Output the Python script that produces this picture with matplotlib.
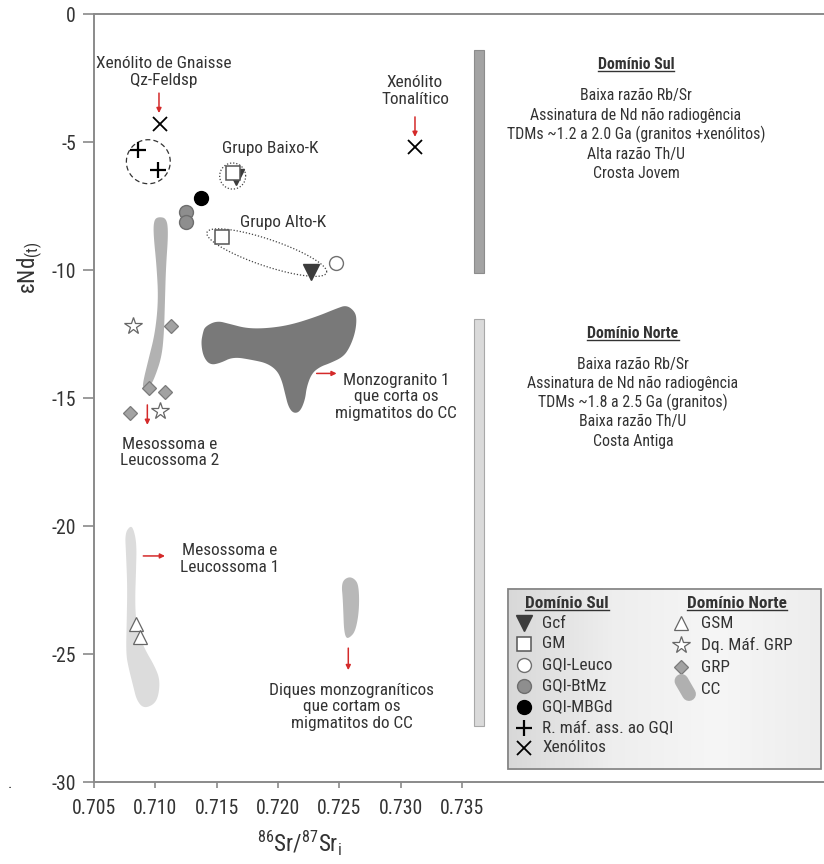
import numpy as np
import matplotlib
matplotlib.use("Agg")
import matplotlib.pyplot as plt
from matplotlib import font_manager as fm
from matplotlib.patches import Polygon, Rectangle
from matplotlib.lines import Line2D
from matplotlib.colors import LinearSegmentedColormap

# pick a narrow sans face when one is installed
_installed = {f.name for f in fm.fontManager.ttflist}
_narrow = [n for n in ('Liberation Sans Narrow', 'Arial Narrow', 'Roboto Condensed',
                       'Open Sans Condensed', 'Noto Sans Condensed', 'DejaVu Sans Condensed')
           if n in _installed]
_stretch = 'normal'
if not _narrow:
    for f in fm.fontManager.ttflist:
        if f.name in ('Noto Sans', 'Open Sans', 'Roboto', 'Inter') and \
                str(f.stretch) in ('condensed', 'semi-condensed', 'extra-condensed', '75', '87.5'):
            _narrow = [f.name]
            _stretch = 'condensed'
            break
plt.rcParams['font.family'] = _narrow + ['Liberation Sans', 'DejaVu Sans']
plt.rcParams['font.stretch'] = _stretch
plt.rcParams['axes.unicode_minus'] = False
plt.rcParams['mathtext.default'] = 'regular'

# ---------------- samples: initial 87Sr/86Sr and eNd(t) ----------------
# Dominio Sul
gcf_sr = [0.7166, 0.7227]
gcf_nd = [-6.38, -10.07]
gm_sr = [0.7163, 0.7154]
gm_nd = [-6.22, -8.70]
leuco_sr = [0.7247]
leuco_nd = [-9.71]
btmz_sr = [0.7125, 0.7125]
btmz_nd = [-7.72, -8.11]
mbgd_sr = [0.7137]
mbgd_nd = [-7.20]
rmaf_sr = [0.7086, 0.7102]
rmaf_nd = [-5.31, -6.09]
xen_sr = [0.7104, 0.7312]
xen_nd = [-4.31, -5.20]
# Dominio Norte
gsm_sr = [0.7084, 0.70875]
gsm_nd = [-23.83, -24.35]
dq_sr = [0.7082, 0.7104]
dq_nd = [-12.19, -15.50]
grp_sr = [0.7113, 0.7095, 0.7108, 0.7079]
grp_nd = [-12.19, -14.60, -14.78, -15.60]

# ---------------- fields (outlines in Sr, Nd units) ----------------
cc_upper_sr = [0.71025, 0.71093, 0.71106, 0.71087, 0.71079, 0.71071, 0.71052, 0.70998,
               0.70957, 0.70902, 0.70897, 0.70943, 0.70998, 0.71025, 0.71011, 0.70984, 0.70989]
cc_upper_nd = [-7.92, -7.98, -8.57, -9.87, -11.17, -12.47, -13.39, -14.17,
               -14.56, -14.62, -14.43, -13.52, -12.47, -11.17, -9.87, -8.57, -8.05]

monzo_sr = [0.71405, 0.71501, 0.71609, 0.71746, 0.71909, 0.72099, 0.72317, 0.72480, 0.72561,
            0.72629, 0.72643, 0.72629, 0.72588, 0.72534, 0.72425, 0.72344, 0.72276, 0.72235,
            0.72221, 0.72180, 0.72126, 0.72085, 0.72058, 0.72031, 0.71990, 0.71909, 0.71799,
            0.71636, 0.71528, 0.71446, 0.71392, 0.71373, 0.71387]
monzo_nd = [-12.21, -11.98, -12.11, -12.28, -12.28, -12.15, -11.82, -11.50, -11.37,
            -11.63, -11.95, -12.47, -13.00, -13.39, -13.64, -13.78, -14.04, -14.56,
            -15.08, -15.54, -15.60, -15.34, -14.82, -14.30, -13.91, -13.64, -13.52,
            -13.39, -13.64, -13.71, -13.39, -12.86, -12.47]

cc_lower_sr = [0.70794, 0.70821, 0.70848, 0.70843, 0.70834, 0.70848, 0.70902, 0.70998, 0.71038,
               0.71025, 0.70984, 0.70902, 0.70848, 0.70821, 0.70780, 0.70761, 0.70767, 0.70772,
               0.70761, 0.70753]
cc_lower_nd = [-20.00, -20.09, -20.68, -21.72, -23.02, -23.93, -24.71, -25.50, -26.02,
               -26.67, -26.99, -27.12, -26.80, -26.28, -25.50, -24.97, -23.67, -22.37,
               -21.07, -20.29]

dike_sr = [0.72534, 0.72583, 0.72629, 0.72656, 0.72664, 0.72656, 0.72629, 0.72588, 0.72556,
           0.72539, 0.72534, 0.72528, 0.72520]
dike_nd = [-22.11, -21.98, -22.08, -22.30, -22.89, -23.54, -24.13, -24.35, -24.39,
           -24.06, -23.41, -22.76, -22.37]

# domain ranges of eNd (vertical bars)
sul_range = [-1.4, -10.1]
norte_range = [-11.9, -27.8]
domain_bar_sr = 0.7364

# group outlines: centre (Sr, Nd), half-width in Sr, half-height in Nd, tilt in Nd
plus_ring = (0.70943, -5.77, 0.00179, 0.86, 0.0)
baixo_ring = (0.71631, -6.33, 0.00106, 0.51, 0.0)
alto_ring = (0.71909, -9.32, 0.00489, 0.55, 0.75)

x_ticks = [0.705, 0.710, 0.715, 0.720, 0.725, 0.730, 0.735]
x_tick_labels = ['0.705', '0.710', '0.715', '0.720', '0.725', '0.730', '0.735']
y_ticks = [0, -5, -10, -15, -20, -25, -30]
y_tick_labels = ['0', '-5', '-10', '-15', '-20', '-25', '-30']

TXT = '#333333'
RED = '#d42a2a'
SPINE = '#8a8a8a'

styles = {
    'Gcf': dict(marker='v', ms=11, mfc='#3c3c3c', mec='#3c3c3c', mew=1.0),
    'GM': dict(marker='s', ms=10, mfc='white', mec='#555555', mew=1.1),
    'GQI-Leuco': dict(marker='o', ms=10, mfc='white', mec='#707070', mew=1.0),
    'GQI-BtMz': dict(marker='o', ms=10, mfc='#8e8e8e', mec='#6e6e6e', mew=1.0),
    'GQI-MBGd': dict(marker='o', ms=10, mfc='black', mec='black', mew=1.0),
    'R. máf. ass. ao GQI': dict(marker='+', ms=11, mfc='none', mec='black', mew=1.6),
    'Xenólitos': dict(marker='x', ms=10, mfc='none', mec='black', mew=1.3),
    'GSM': dict(marker='^', ms=10, mfc='white', mec='#666666', mew=0.9),
    'Dq. Máf. GRP': dict(marker='*', ms=13, mfc='white', mec='#666666', mew=0.9),
    'GRP': dict(marker='D', ms=7.5, mfc='#a2a2a2', mec='#7a7a7a', mew=0.9),
}
series = [
    ('Gcf', gcf_sr, gcf_nd), ('GM', gm_sr, gm_nd), ('GQI-Leuco', leuco_sr, leuco_nd),
    ('GQI-BtMz', btmz_sr, btmz_nd), ('GQI-MBGd', mbgd_sr, mbgd_nd),
    ('R. máf. ass. ao GQI', rmaf_sr, rmaf_nd), ('Xenólitos', xen_sr, xen_nd),
    ('GSM', gsm_sr, gsm_nd), ('Dq. Máf. GRP', dq_sr, dq_nd), ('GRP', grp_sr, grp_nd),
]


def smooth_closed(xs, ys, rounds=3):
    """Chaikin corner cutting of a closed outline."""
    p = np.column_stack([xs, ys]).astype(float)
    for _ in range(rounds):
        q = np.roll(p, -1, axis=0)
        out = np.empty((2 * len(p), 2))
        out[0::2] = 0.75 * p + 0.25 * q
        out[1::2] = 0.25 * p + 0.75 * q
        p = out
    return p


def ring(cx, cy, a, b, tilt, n=200):
    t = np.linspace(0, 2 * np.pi, n)
    return cx + a * np.cos(t), cy - tilt * np.cos(t) + b * np.sin(t)


W, H = 824, 864
fig = plt.figure(figsize=(W / 100, H / 100), dpi=100)
rend = fig.canvas.get_renderer()

# font sizes are given for a narrow face; scale them so a sample line keeps its width
_probe = fig.text(0, 0, 'TDMs ~1.2 a 2.0 Ga (granitos +xenólitos)', fontsize=12.4)
K = 259.0 / _probe.get_window_extent(rend).width
_probe.remove()
K = min(K, 1.15)

ax = fig.add_axes([94 / W, 1 - 782 / H, 730 / W, 768 / H])
ax.set_xlim(0.705, 0.76454)
ax.set_ylim(-30, 0)

for side in ('left', 'bottom', 'top'):
    ax.spines[side].set_color(SPINE)
    ax.spines[side].set_linewidth(1.4)
ax.spines['right'].set_visible(False)

ax.set_xticks(x_ticks)
ax.set_xticklabels(x_tick_labels)
ax.set_yticks(y_ticks)
ax.set_yticklabels(y_tick_labels)
ax.tick_params(axis='x', direction='out', length=4, width=1.2, color=SPINE,
               labelcolor=TXT, labelsize=15.5 * K, pad=8)
ax.tick_params(axis='y', direction='out', length=8, width=1.2, color=SPINE,
               labelcolor=TXT, labelsize=15.5 * K, pad=5)

# fields
fields = [
    (cc_upper_sr, cc_upper_nd, '#b2b2b2'),
    (monzo_sr, monzo_nd, '#797979'),
    (cc_lower_sr, cc_lower_nd, '#dcdcdc'),
    (dike_sr, dike_nd, '#b8b8b8'),
]
for xs, ys, col in fields:
    ax.add_patch(Polygon(smooth_closed(xs, ys), closed=True, fc=col, ec='none', zorder=1))

# domain bars
bw = 0.00082
ax.add_patch(Rectangle((domain_bar_sr - bw / 2, sul_range[1]), bw, sul_range[0] - sul_range[1],
                       fc='#a3a3a3', ec='#8c8c8c', lw=0.8, zorder=1))
ax.add_patch(Rectangle((domain_bar_sr - bw / 2, norte_range[1]), bw, norte_range[0] - norte_range[1],
                       fc='#dadada', ec='#a8a8a8', lw=0.8, zorder=1))

# group outlines
rx, ry = ring(*plus_ring)
ax.plot(rx, ry, ls=(0, (4, 2.5)), color='#333333', lw=0.9, zorder=2)
rx, ry = ring(*baixo_ring)
ax.plot(rx, ry, ls=(0, (1, 1.5)), color='#444444', lw=0.9, zorder=2)
rx, ry = ring(*alto_ring)
ax.plot(rx, ry, ls=(0, (1, 1.5)), color='#444444', lw=0.9, zorder=2)

# samples
for name, xs, ys in series:
    ax.plot(xs, ys, ls='none', zorder=4, **styles[name])

# annotations
fs = 13.5 * K
def note(x, y, s, **kw):
    ax.text(x, y, s, fontsize=fs, color=TXT, ha='center', va='center',
            linespacing=1.15, zorder=5, **kw)

def arrow(x0, y0, x1, y1):
    ax.annotate('', xy=(x1, y1), xytext=(x0, y0),
                arrowprops=dict(arrowstyle='-|>', color=RED, lw=1.1,
                                mutation_scale=7, shrinkA=0, shrinkB=0), zorder=5)

note(0.71065, -2.25, 'Xenólito de Gnaisse\nQz-Feldsp')
arrow(0.7103, -3.09, 0.7103, -3.87)
note(0.71936, -5.27, 'Grupo Baixo-K')
note(0.72042, -8.13, 'Grupo Alto-K')
note(0.73118, -3.01, 'Xenólito\nTonalítico')
arrow(0.73118, -4.02, 0.73118, -4.80)
note(0.7112, -17.13, 'Mesossoma e\nLeucossoma 2')
arrow(0.70935, -15.27, 0.70935, -16.05)
note(0.71609, -21.29, 'Mesossoma e\nLeucossoma 1')
arrow(0.70902, -21.17, 0.71079, -21.17)
note(0.72963, -14.96, 'Monzogranito 1\nque corta os\nmigmatitos do CC')
arrow(0.72316, -14.04, 0.72479, -14.04)
note(0.72604, -27.07, 'Diques monzograníticos\nque cortam os\nmigmatitos do CC')
arrow(0.72574, -24.77, 0.72574, -25.63)

# domain descriptions
dfs = 12.4 * K
underline = []
def block(x, y_head, head, lines, step):
    t = ax.text(x, y_head, head, fontsize=dfs, color=TXT, ha='center', va='baseline',
                fontweight='bold')
    underline.append(t)
    for i, s in enumerate(lines):
        ax.text(x, y_head - 0.27 - (i + 1) * step, s, fontsize=dfs, color=TXT,
                ha='center', va='center')

block(0.74921, -2.15, 'Domínio Sul',
      ['Baixa razão Rb/Sr', 'Assinatura de Nd não radiogência',
       'TDMs ~1.2 a 2.0 Ga (granitos +xenólitos)', 'Alta razão Th/U', 'Crosta Jovem'], 0.765)
block(0.74896, -12.66, 'Domínio Norte',
      ['Baixa razão Rb/Sr', 'Assinatura de Nd não radiogência',
       'TDMs ~1.8 a 2.5 Ga (granitos)', 'Baixa razão Th/U', 'Costa Antiga'], 0.75)

# axis titles
fig.text(30 / W, 1 - 268 / H, r'εNd$_{(t)}$', rotation=90, fontsize=18 * K, color=TXT,
         ha='center', va='center')
fig.text(299 / W, 1 - 843 / H, r'$^{86}$Sr/$^{87}$Sr$_{i}$', fontsize=18 * K, color=TXT,
         ha='center', va='center')
fig.text(10 / W, 1 - 784 / H, '.', fontsize=12, color=TXT, ha='center', va='center')

# legend panel
lax = fig.add_axes([507 / W, 1 - 770 / H, 315 / W, 182 / H])
lax.set_xlim(507, 822)
lax.set_ylim(770, 588)
lax.axis('off')
cmap = LinearSegmentedColormap.from_list('bg', ['#d8d8d8', '#eeeeee', '#f6f6f6', '#ededed'])
lax.imshow(np.linspace(0, 1, 256)[None, :], extent=[507, 822, 770, 588], aspect='auto',
           cmap=cmap, zorder=0)
lax.add_patch(Rectangle((507.7, 588.7), 313.6, 180.6, fill=False, ec='#808080', lw=1.2, zorder=3))

lfs = 13.5 * K
left_names = ['Gcf', 'GM', 'GQI-Leuco', 'GQI-BtMz', 'GQI-MBGd', 'R. máf. ass. ao GQI', 'Xenólitos']
left_rows = [623, 644, 665, 686, 707, 728, 748]
for name, yy in zip(left_names, left_rows):
    lax.plot([524], [yy], ls='none', zorder=4, **styles[name])
    lax.text(542, yy, name, fontsize=lfs, color=TXT, ha='left', va='center', zorder=4)
right_names = ['GSM', 'Dq. Máf. GRP', 'GRP']
right_rows = [623, 645, 667]
for name, yy in zip(right_names, right_rows):
    lax.plot([681], [yy], ls='none', zorder=4, **styles[name])
    lax.text(701, yy, name, fontsize=lfs, color=TXT, ha='left', va='center', zorder=4)
lax.plot([681.5, 689], [681, 694], color='#b0b0b0', lw=10, solid_capstyle='round', zorder=4)
lax.text(701, 690, 'CC', fontsize=lfs, color=TXT, ha='left', va='center', zorder=4)
underline.append(lax.text(567, 608, 'Domínio Sul', fontsize=lfs, color=TXT, ha='center',
                          va='baseline', fontweight='bold', zorder=4))
underline.append(lax.text(737, 608, 'Domínio Norte', fontsize=lfs, color=TXT, ha='center',
                          va='baseline', fontweight='bold', zorder=4))

# underline the bold headings
fig.canvas.draw()
inv = fig.transFigure.inverted()
for t in underline:
    bb = t.get_window_extent(rend)
    base = t.get_transform().transform(t.get_position())[1] - 2.0
    p0 = inv.transform((bb.x0, base))
    p1 = inv.transform((bb.x1, base))
    fig.add_artist(Line2D([p0[0], p1[0]], [p0[1], p1[1]], color=TXT, lw=1.0, zorder=6))

fig.savefig('out.png', dpi=100)
